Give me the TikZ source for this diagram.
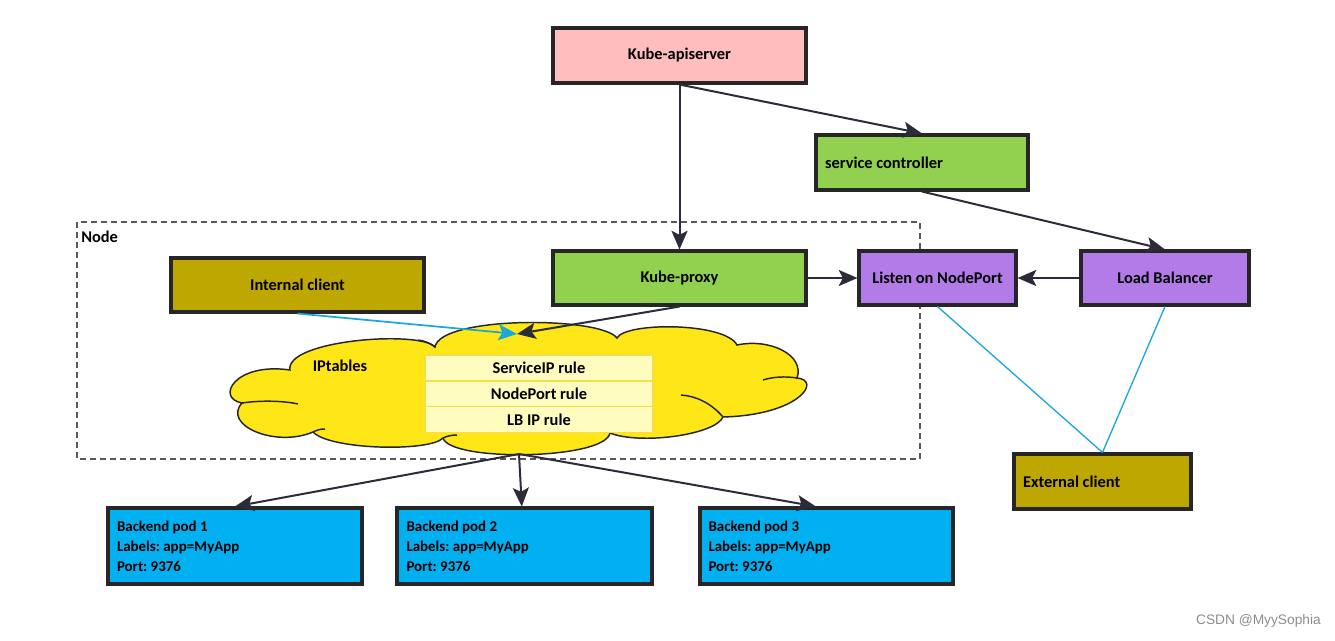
\documentclass[tikz,border=0pt]{standalone}
\usepackage{fontspec}
\setmainfont{Carlito}
\newfontfamily\wmfont{Liberation Sans}
\usetikzlibrary{arrows.meta}
\frenchspacing
\definecolor{pinkbox}{HTML}{FFBDBD}
\definecolor{greenbox}{HTML}{92D050}
\definecolor{olivebox}{HTML}{BDA700}
\definecolor{purplebox}{HTML}{B37BE8}
\definecolor{bluebox}{HTML}{00B0F0}
\definecolor{cloudyellow}{HTML}{FFE617}
\definecolor{rowyellow}{HTML}{FFFCC0}
\definecolor{rowline}{HTML}{F3DF4A}
\definecolor{edgecol}{HTML}{2B2B3A}
\definecolor{cyanline}{HTML}{1BA6DE}
\definecolor{borderc}{HTML}{262626}
\tikzset{
  box/.style={draw=borderc, line width=2.3pt, inner sep=0pt, text=black,
    font=\bfseries\fontsize{12.3}{14}\selectfont},
  podbox/.style={box, fill=bluebox, minimum height=57pt, text width=177pt, align=flush left,
    font=\bfseries\fontsize{11.2}{15}\selectfont},
  rowbox/.style={draw=rowline, line width=0.8pt, fill=rowyellow, minimum width=171pt,
    minimum height=19.5pt, inner sep=0pt, font=\bfseries\fontsize{12.3}{14}\selectfont},
  arr/.style={draw=edgecol, line width=1.5pt, -{Stealth[length=14pt,width=12pt,inset=3pt]}},
  cyarr/.style={draw=cyanline, line width=1.3pt, -{Stealth[length=14pt,width=12pt,inset=3pt]}},
  cyline/.style={draw=cyanline, line width=1pt},
  seam/.style={draw=black!85, line width=1.1pt},
  lbl/.style={font=\bfseries\fontsize{12.3}{14}\selectfont, inner sep=0pt}
}
\begin{document}
\begin{tikzpicture}[x=0.75pt,y=-0.75pt]
\path[use as bounding box] (0,0) rectangle (1335,640);

% Node frame
\draw[draw=black!65, line width=0.9pt, dash pattern=on 4.5pt off 3pt] (77,222) rectangle (920,459);
\node[lbl, anchor=west] (nodelbl) at (81,237) {Node};

% boxes
\node[box, fill=pinkbox, minimum width=189.75pt, minimum height=41.25pt] (api) at (679.5,55.5) {Kube-apiserver};
\node[box, fill=greenbox, minimum width=159pt, minimum height=41.25pt, text width=145.5pt, align=flush left] (svc) at (922,162.5) {service controller};
\node[box, fill=greenbox, minimum width=189.75pt, minimum height=40.5pt] (kp) at (679.5,278) {Kube-proxy};
\node[box, fill=purplebox, minimum width=117.75pt, minimum height=40.5pt] (listen) at (937.5,278) {Listen on NodePort};
\node[box, fill=purplebox, minimum width=126pt, minimum height=40.5pt] (lb) at (1165,278) {Load Balancer};
\node[box, fill=olivebox, minimum width=189.75pt, minimum height=40.5pt] (ic) at (297.5,285) {Internal client};
\node[box, fill=olivebox, minimum width=132.75pt, minimum height=41.25pt, text width=119.25pt, align=flush left] (ec) at (1102.5,481.5) {External client};

\node[podbox, minimum width=190.5pt] (pod1) at (235,546) {Backend pod 1\\Labels: app=MyApp\\Port: 9376};
\node[podbox, minimum width=191.25pt] (pod2) at (524.5,546) {Backend pod 2\\Labels: app=MyApp\\Port: 9376};
\node[podbox, minimum width=189.75pt] (pod3) at (826.5,546) {Backend pod 3\\Labels: app=MyApp\\Port: 9376};

% cloud
\draw[fill=cloudyellow, draw=black!85, line width=1.1pt]
  (242,403) .. controls (215,398) and (235,362) .. (290,370)
  .. controls (285,340) and (420,330) .. (435,347)
  .. controls (440,316) and (600,316) .. (617,338)
  .. controls (625,322) and (725,322) .. (737,345)
  .. controls (770,338) and (805,355) .. (797,378)
  .. controls (822,380) and (800,415) .. (723,417)
  .. controls (715,435) and (640,445) .. (610,433)
  .. controls (605,460) and (450,462) .. (443,438)
  .. controls (430,452) and (330,450) .. (313,432)
  .. controls (275,448) and (222,425) .. (242,403) -- cycle;
\draw[seam] (242,403) .. controls (262,400) and (285,401) .. (298,404);
\draw[seam] (797,378) .. controls (785,376) and (772,377) .. (763,380);
\draw[seam] (723,417) .. controls (710,402) and (695,396) .. (681,395);
\draw[seam] (435,347) .. controls (430,343) and (425,341) .. (418,340);
\draw[seam] (313,432) .. controls (317,430) and (320,429) .. (325,429);
\draw[seam] (443,438) .. controls (447,436) and (452,435) .. (457,435);

\node[lbl] (ipt) at (340,366) {IPtables};
\node[rowbox] (r1) at (539,368) {ServiceIP rule};
\node[rowbox] (r2) at (539,394) {NodePort rule};
\node[rowbox] (r3) at (539,419.5) {LB IP rule};

\coordinate (tgt) at (517,334);
\coordinate (cb) at (519,454);

% connectors
\draw[arr] (api.south) -- (kp.north);
\draw[arr] (api.south) -- (svc.north);
\draw[arr] (svc.south) -- (lb.north);
\draw[arr] (kp.east) -- (listen.west);
\draw[arr] (lb.west) -- (listen.east);
\draw[cyarr] (ic.south) -- (tgt);
\draw[arr] (kp.south) -- (tgt);
\draw[arr] (cb) -- (pod1.north);
\draw[arr] (cb) -- ([xshift=-2pt]pod2.north);
\draw[arr] (cb) -- ([xshift=-8pt]pod3.north);
\draw[cyline] (listen.south) -- (ec.north);
\draw[cyline] (lb.south) -- (ec.north);

\node[anchor=east, font=\wmfont\fontsize{10.3}{12}\selectfont, text=black!45, inner sep=0pt] (wm) at (1321,621) {CSDN @MyySophia};
\end{tikzpicture}
\end{document}
